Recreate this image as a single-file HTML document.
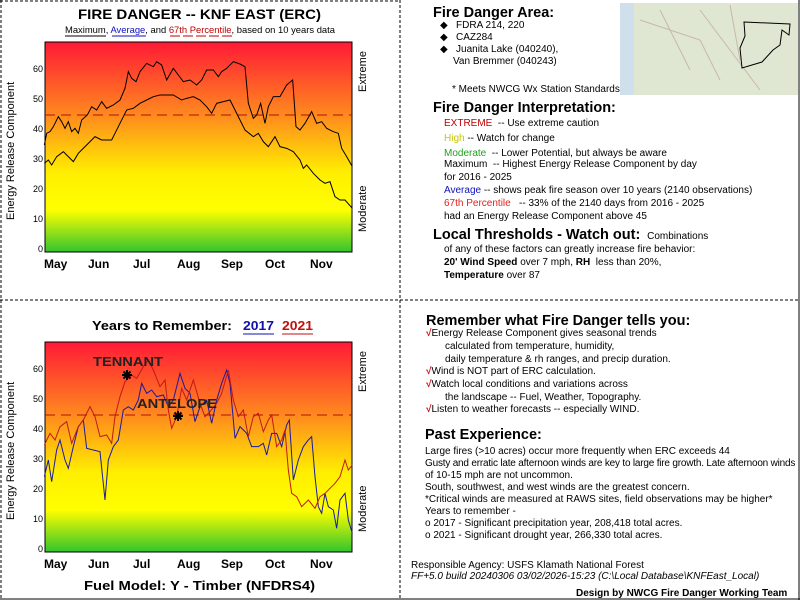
<!DOCTYPE html>
<html><head><meta charset="utf-8"><style>
body{margin:0;width:800px;height:600px;background:#fff;position:relative;overflow:hidden;font-family:"Liberation Sans",sans-serif;color:#000}
.t{position:absolute;white-space:nowrap;font-size:10px;line-height:13px}
.h{position:absolute;white-space:nowrap;font-size:14.5px;font-weight:bold;line-height:18px}
</style></head><body>
<svg width="800" height="600" style="position:absolute;left:0;top:0" font-family="Liberation Sans, sans-serif">
<defs>
<linearGradient id="g" x1="0" y1="0" x2="0" y2="1">
<stop offset="0" stop-color="#ff1a36"/><stop offset="0.35" stop-color="#ff8a1e"/><stop offset="0.62" stop-color="#ffee00"/><stop offset="0.8" stop-color="#ffff00"/><stop offset="1" stop-color="#33c42e"/>
</linearGradient>
</defs>
<line x1="400" y1="0" x2="400" y2="600" stroke="#000" stroke-dasharray="3,2"/>
<line x1="0" y1="300" x2="800" y2="300" stroke="#000" stroke-dasharray="3,2"/>
<line x1="1" y1="0" x2="1" y2="600" stroke="#000" stroke-dasharray="3,2"/>
<line x1="0" y1="1" x2="400" y2="1" stroke="#000" stroke-dasharray="3,2"/>
<line x1="799" y1="0" x2="799" y2="600" stroke="#000"/>
<line x1="0" y1="599" x2="800" y2="599" stroke="#000"/>
<!-- top chart -->
<text x="78" y="19" font-size="14" font-weight="bold" textLength="243" lengthAdjust="spacingAndGlyphs">FIRE DANGER -- KNF EAST (ERC)</text>
<text x="65" y="33" font-size="9.5" textLength="270" lengthAdjust="spacingAndGlyphs"><tspan fill="#000">Maximum</tspan>, <tspan fill="#1010c0">Average</tspan>, and <tspan fill="#c00000">67th Percentile</tspan>, based on 10 years data</text>
<line x1="65" y1="36" x2="106" y2="36" stroke="#000"/><line x1="112" y1="36" x2="146" y2="36" stroke="#1010c0"/><line x1="170" y1="36" x2="232" y2="36" stroke="#c00000" stroke-dasharray="10,3"/>
<rect x="45" y="42" width="307" height="210" fill="url(#g)" stroke="#000"/>
<g font-size="9" text-anchor="end">
<text x="43" y="252">0</text><text x="43" y="222">10</text><text x="43" y="192">20</text><text x="43" y="162">30</text><text x="43" y="132">40</text><text x="43" y="102">50</text><text x="43" y="72">60</text>
</g>
<g font-size="12" font-weight="bold">
<text x="44" y="268">May</text><text x="88" y="268">Jun</text><text x="133" y="268">Jul</text><text x="177" y="268">Aug</text><text x="221" y="268">Sep</text><text x="265" y="268">Oct</text><text x="310" y="268">Nov</text>
</g>
<line x1="45" y1="115" x2="352" y2="115" stroke="#b01010" stroke-dasharray="10,6"/>
<text transform="translate(14,220) rotate(-90)" font-size="11">Energy Release Component</text>
<text transform="translate(366,92) rotate(-90)" font-size="11">Extreme</text>
<text transform="translate(366,232) rotate(-90)" font-size="11">Moderate</text>
<g transform="scale(0.33333)" fill="none" stroke="#000" stroke-width="3">
<polyline points="133,435 140,400 150,395 160,380 175,350 185,365 195,385 205,365 215,395 225,385 235,400 245,360 262,345 275,320 290,330 305,305 320,325 340,315 360,300 375,265 385,215 395,235 408,245 420,215 440,190 460,200 470,185 485,195 500,240 520,205 535,225 550,245 570,240 590,255 605,240 620,210 640,210 655,230 665,215 680,205 700,185 720,192 735,200 745,310 760,355 770,345 782,310 795,370 805,320 820,290 840,290 860,255 878,240 888,380 900,390 915,370 935,335 950,370 965,365 980,385 1000,395 1015,400 1025,445 1040,470 1057,500"/>
<polyline points="133,490 145,480 155,495 170,470 190,455 205,470 220,485 235,460 260,435 285,410 305,420 335,420 345,400 360,370 380,330 400,325 420,310 440,300 460,290 480,285 500,285 520,285 545,300 560,295 580,290 600,300 620,320 635,340 650,310 670,305 690,300 705,330 720,360 735,390 760,410 775,400 790,425 805,440 825,410 840,440 860,445 880,455 900,480 910,505 920,495 940,520 960,540 975,550 990,545 1005,590 1020,600 1035,600 1057,625"/>
</g>
<!-- bottom chart -->
<text x="92" y="330" font-size="13" font-weight="bold" textLength="140" lengthAdjust="spacingAndGlyphs">Years to Remember:</text>
<text x="243" y="330" font-size="13" font-weight="bold" fill="#1010b0" textLength="31" lengthAdjust="spacingAndGlyphs">2017</text>
<text x="282" y="330" font-size="13" font-weight="bold" fill="#c01010" textLength="31" lengthAdjust="spacingAndGlyphs">2021</text>
<line x1="243" y1="334" x2="274" y2="334" stroke="#1010b0"/><line x1="282" y1="334" x2="313" y2="334" stroke="#c01010"/>
<rect x="45" y="342" width="307" height="210" fill="url(#g)" stroke="#000"/>
<g font-size="9" text-anchor="end">
<text x="43" y="552">0</text><text x="43" y="522">10</text><text x="43" y="492">20</text><text x="43" y="462">30</text><text x="43" y="432">40</text><text x="43" y="402">50</text><text x="43" y="372">60</text>
</g>
<g font-size="12" font-weight="bold">
<text x="44" y="568">May</text><text x="88" y="568">Jun</text><text x="133" y="568">Jul</text><text x="177" y="568">Aug</text><text x="221" y="568">Sep</text><text x="265" y="568">Oct</text><text x="310" y="568">Nov</text>
</g>
<text x="84" y="590" font-size="13" font-weight="bold" textLength="231" lengthAdjust="spacingAndGlyphs">Fuel Model: Y - Timber (NFDRS4)</text>
<line x1="45" y1="415" x2="352" y2="415" stroke="#b01010" stroke-dasharray="10,6"/>
<text transform="translate(14,520) rotate(-90)" font-size="11">Energy Release Component</text>
<text transform="translate(366,392) rotate(-90)" font-size="11">Extreme</text>
<text transform="translate(366,532) rotate(-90)" font-size="11">Moderate</text>
<g transform="translate(0,300) scale(0.33333)" fill="none" stroke-width="3">
<polyline stroke="#1a1aa0" points="133,530 145,480 155,545 170,450 180,420 195,480 205,505 220,440 235,380 250,360 260,445 280,450 300,455 315,600 325,480 340,440 355,420 370,330 385,320 400,330 415,300 425,250 440,280 455,270 470,290 490,285 505,320 520,300 540,220 555,265 570,280 585,365 600,320 620,300 635,370 650,300 665,250 680,210 690,250 705,415 720,380 740,400 755,440 775,440 790,430 800,465 815,400 830,400 845,440 860,375 868,360 880,540 895,480 910,440 925,420 935,410 945,530 955,620 965,640 975,580 985,620 1000,630 1010,685 1020,600 1035,580 1045,660 1057,700"/>
<polyline stroke="#c01818" points="133,435 150,400 165,420 180,380 200,365 215,430 235,380 250,360 270,320 285,350 300,410 320,405 335,430 345,350 360,290 375,245 395,225 410,235 430,200 445,180 460,210 480,260 495,240 505,330 515,385 530,350 545,265 560,300 580,240 600,310 615,350 630,335 650,310 665,280 685,210 700,300 715,350 730,330 745,410 760,350 775,340 790,395 805,360 815,345 830,440 845,420 855,390 865,510 875,580 890,590 905,620 925,600 945,625 960,590 975,580 990,565 1005,550 1020,530 1035,480 1045,510 1057,495"/>
</g>
<text x="93" y="366" font-size="13" font-weight="bold" fill="#222" textLength="70" lengthAdjust="spacingAndGlyphs">TENNANT</text>
<text x="137" y="408" font-size="13" font-weight="bold" fill="#222" textLength="80" lengthAdjust="spacingAndGlyphs">ANTELOPE</text>
<g stroke="#000" stroke-width="2">
<path d="M122 375 h10 M127 370 v10 M123.5 371.5 l7 7 M130.5 371.5 l-7 7"/>
<path d="M173 416 h10 M178 411 v10 M174.5 412.5 l7 7 M181.5 412.5 l-7 7"/>
</g>
<!-- map -->
<rect x="620" y="3" width="178" height="92" fill="#dfe6d2"/>
<rect x="620" y="3" width="14" height="92" fill="#cfe0ec"/>
<path d="M640 20 L700 40 L720 80 M660 10 L690 70 M700 10 L760 90 M730 5 L740 60" stroke="#c9b8a8" fill="none"/>
<path d="M744 22 L790 24 L789 35 L782 30 L780 45 L773 50 L762 62 L742 68 L740 48 L745 36 Z" fill="none" stroke="#000"/>
</svg>
<div class="h" style="left:433px;top:4px">Fire Danger Area:</div>
<div class="t" style="left:440px;top:19px">◆&nbsp;&nbsp;&nbsp;FDRA 214, 220</div>
<div class="t" style="left:440px;top:31px">◆&nbsp;&nbsp;&nbsp;CAZ284</div>
<div class="t" style="left:440px;top:43px">◆&nbsp;&nbsp;&nbsp;Juanita Lake (040240),</div>
<div class="t" style="left:453px;top:55px">Van Bremmer (040243)</div>
<div class="t" style="left:452px;top:83px">* Meets NWCG Wx Station Standards</div>
<div class="h" style="left:433px;top:99px">Fire Danger Interpretation:</div>
<div class="t" style="left:444px;top:117px"><span style="color:#c00000">EXTREME</span> &nbsp;-- Use extreme caution</div>
<div class="t" style="left:444px;top:132px"><span style="color:#c8c800">High</span> -- Watch for change</div>
<div class="t" style="left:444px;top:147px"><span style="color:#20a020">Moderate</span> &nbsp;-- Lower Potential, but always be aware</div>
<div class="t" style="left:444px;top:158px">Maximum &nbsp;-- Highest Energy Release Component by day</div>
<div class="t" style="left:444px;top:171px">for 2016 - 2025</div>
<div class="t" style="left:444px;top:184px"><span style="color:#1010c0">Average</span> -- shows peak fire season over 10 years (2140 observations)</div>
<div class="t" style="left:444px;top:197px"><span style="color:#e02020">67th Percentile</span> &nbsp;&nbsp;-- 33% of the 2140 days from 2016 - 2025</div>
<div class="t" style="left:444px;top:210px">had an Energy Release Component above 45</div>
<div class="h" style="left:433px;top:226px">Local Thresholds - Watch out: <span style="font-size:10px;font-weight:normal">&nbsp;Combinations</span></div>
<div class="t" style="left:444px;top:243px">of any of these factors can greatly increase fire behavior:</div>
<div class="t" style="left:444px;top:256px"><b>20' Wind Speed</b> over 7 mph, <b>RH</b> &nbsp;less than 20%,</div>
<div class="t" style="left:444px;top:269px"><b>Temperature</b> over 87</div>
<div class="h" style="left:426px;top:312px">Remember what Fire Danger tells you:</div>
<div class="t" style="left:426px;top:327px"><span style="color:#d01010;font-weight:bold">√</span>Energy Release Component gives seasonal trends</div>
<div class="t" style="left:445px;top:340px">calculated from temperature, humidity,</div>
<div class="t" style="left:445px;top:353px">daily temperature &amp; rh ranges, and precip duration.</div>
<div class="t" style="left:426px;top:365px"><span style="color:#d01010;font-weight:bold">√</span>Wind is NOT part of ERC calculation.</div>
<div class="t" style="left:426px;top:378px"><span style="color:#d01010;font-weight:bold">√</span>Watch local conditions and variations across</div>
<div class="t" style="left:445px;top:391px">the landscape -- Fuel, Weather, Topography.</div>
<div class="t" style="left:426px;top:403px"><span style="color:#d01010;font-weight:bold">√</span>Listen to weather forecasts -- especially WIND.</div>
<div class="h" style="left:425px;top:426px">Past Experience:</div>
<div class="t" style="left:425px;top:445px">Large fires (&gt;10 acres) occur more frequently when ERC exceeds 44</div>
<div class="t" style="left:425px;top:457px;letter-spacing:-0.2px">Gusty and erratic late afternoon winds are key to large fire growth. Late afternoon winds</div>
<div class="t" style="left:425px;top:469px">of 10-15 mph are not uncommon.</div>
<div class="t" style="left:425px;top:481px">South, southwest, and west winds are the greatest concern.</div>
<div class="t" style="left:425px;top:493px">*Critical winds are measured at RAWS sites, field observations may be higher*</div>
<div class="t" style="left:425px;top:505px">Years to remember -</div>
<div class="t" style="left:425px;top:517px">o 2017 - Significant precipitation year, 208,418 total acres.</div>
<div class="t" style="left:425px;top:529px">o 2021 - Significant drought year, 266,330 total acres.</div>
<div class="t" style="left:411px;top:559px">Responsible Agency: USFS Klamath National Forest</div>
<div class="t" style="left:411px;top:570px;font-style:italic">FF+5.0 build 20240306 03/02/2026-15:23 (C:\Local Database\KNFEast_Local)</div>
<div class="t" style="left:576px;top:587px;font-weight:bold">Design by NWCG Fire Danger Working Team</div>
</body></html>
